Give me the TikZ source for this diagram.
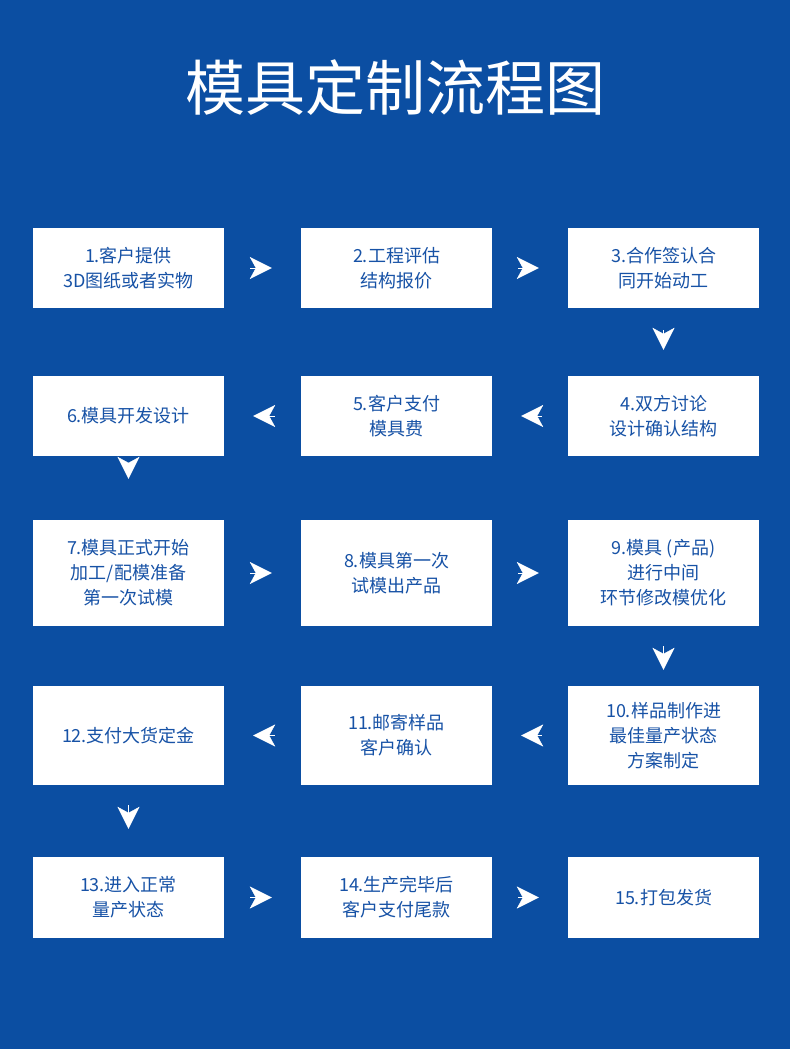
\documentclass[tikz,border=0pt]{standalone}
\usepackage{fontspec}
\setmainfont{Noto Sans CJK SC}
\usetikzlibrary{arrows.meta}
\definecolor{bgblue}{HTML}{0B4EA2}
\definecolor{txtblue}{HTML}{1752A6}
\tikzset{
  stepbox/.style={fill=white,draw=none,minimum width=191pt,align=center,text=txtblue,
    font=\fontsize{18}{25}\selectfont,inner sep=0pt},
  tip/.style={draw=white,line width=0.3pt,-{Stealth[length=22pt,width=22pt,inset=6pt,fill=white]}}
}
\begin{document}
\begin{tikzpicture}[x=1pt,y=-1pt]
\fill[bgblue] (0,0) rectangle (790,1049);
\useasboundingbox (0,0) rectangle (790,1049);
\node[text=white,font=\fontsize{60}{60}\selectfont] (title) at (395,88) {模具定制流程图};
% row 1
\node[stepbox,minimum height=80pt] (1) at (128.5,268) {1.客户提供\\3D图纸或者实物};
\node[stepbox,minimum height=80pt] (2) at (396.5,268) {2.工程评估\\结构报价};
\node[stepbox,minimum height=80pt] (3) at (663.5,268) {3.合作签认合\\同开始动工};
% row 2
\node[stepbox,minimum height=80pt] (4) at (663.5,416) {4.双方讨论\\设计确认结构};
\node[stepbox,minimum height=80pt] (5) at (396.5,416) {5.客户支付\\模具费};
\node[stepbox,minimum height=80pt] (6) at (128.5,416) {6.模具开发设计};
% row 3
\node[stepbox,minimum height=106pt] (7) at (128.5,573) {7.模具正式开始\\加工/配模准备\\第一次试模};
\node[stepbox,minimum height=106pt] (8) at (396.5,573) {8.模具第一次\\试模出产品};
\node[stepbox,minimum height=106pt] (9) at (663.5,573) {9.模具 (产品)\\进行中间\\环节修改模优化};
% row 4
\node[stepbox,minimum height=99pt] (10) at (663.5,735.5) {10.样品制作进\\最佳量产状态\\方案制定};
\node[stepbox,minimum height=99pt] (11) at (396.5,735.5) {11.邮寄样品\\客户确认};
\node[stepbox,minimum height=99pt] (12) at (128.5,735.5) {12.支付大货定金};
% row 5
\node[stepbox,minimum height=81pt] (13) at (128.5,897.5) {13.进入正常\\量产状态};
\node[stepbox,minimum height=81pt] (14) at (396.5,897.5) {14.生产完毕后\\客户支付尾款};
\node[stepbox,minimum height=81pt] (15) at (663.5,897.5) {15.打包发货};
% connectors
\draw[tip,shorten <=26pt,shorten >=29pt] (1) -- (2);
\draw[tip,shorten <=26pt,shorten >=29pt] (2) -- (3);
\draw[tip,shorten <=22pt,shorten >=26pt] (3) -- (4);
\draw[tip,shorten <=26pt,shorten >=29pt] (4) -- (5);
\draw[tip,shorten <=26pt,shorten >=29pt] (5) -- (6);
\draw[tip,shorten <=20pt,shorten >=41pt] (6) -- (7);
\draw[tip,shorten <=26pt,shorten >=29pt] (7) -- (8);
\draw[tip,shorten <=26pt,shorten >=29pt] (8) -- (9);
\draw[tip,shorten <=20pt,shorten >=16pt] (9) -- (10);
\draw[tip,shorten <=26pt,shorten >=29pt] (10) -- (11);
\draw[tip,shorten <=26pt,shorten >=29pt] (11) -- (12);
\draw[tip,shorten <=20pt,shorten >=28pt] (12) -- (13);
\draw[tip,shorten <=26pt,shorten >=29pt] (13) -- (14);
\draw[tip,shorten <=26pt,shorten >=29pt] (14) -- (15);
\end{tikzpicture}
\end{document}
